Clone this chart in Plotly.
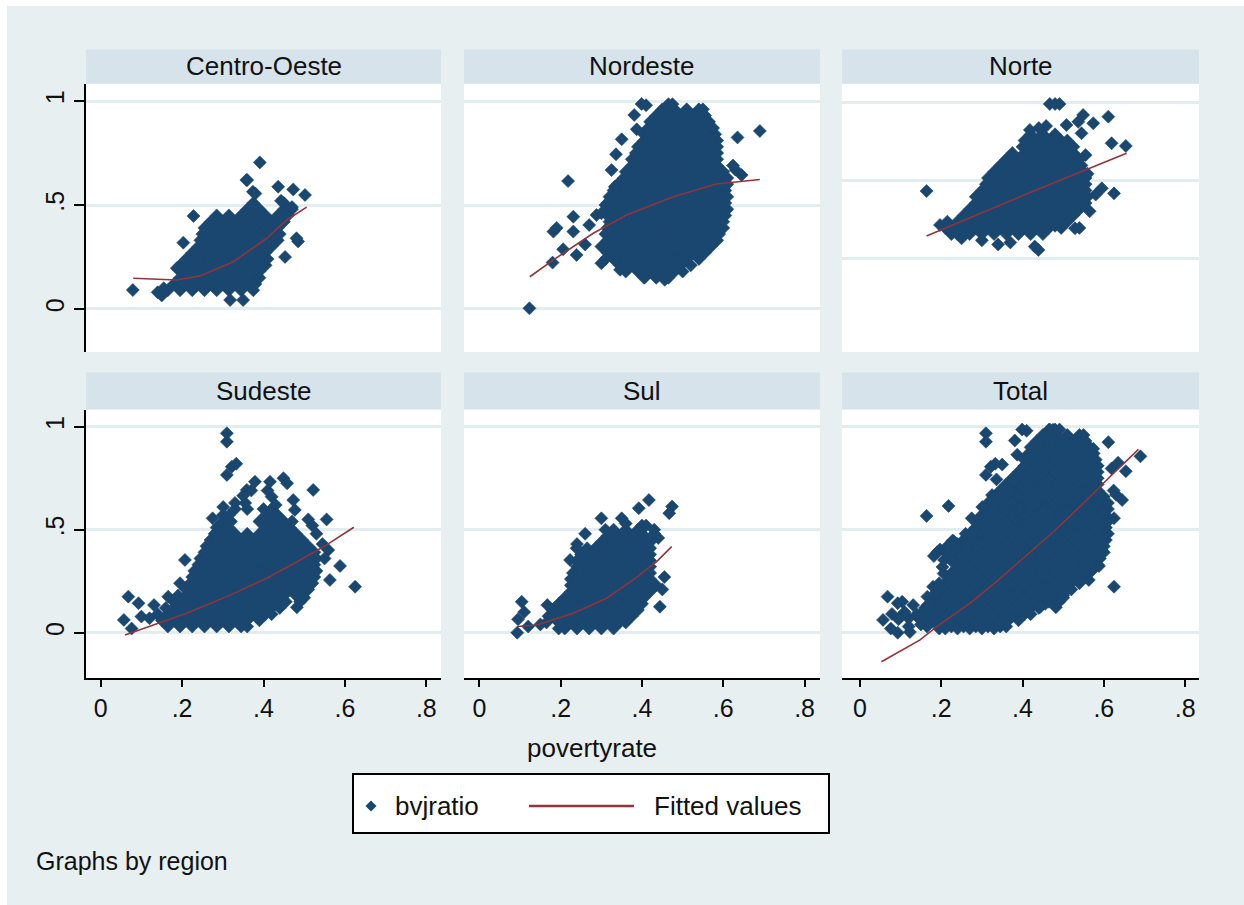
import plotly.graph_objects as go

# ---------------------------------------------------------------------------
# Data: bvjratio against povertyrate, by region (rows of points: (y, [x, ...]))
# ---------------------------------------------------------------------------
regions = ["Centro-Oeste", "Nordeste", "Norte", "Sudeste", "Sul", "Total"]
x_ticks = [0, 0.2, 0.4, 0.6, 0.8]
x_tick_text = ["0", ".2", ".4", ".6", ".8"]
y_ticks = [0, 0.5, 1]
y_tick_text = ["0", ".5", "1"]

centro_oeste_rows = [
    (0.09, [0.165, 0.195, 0.225, 0.255, 0.285, 0.315, 0.345, 0.375]),
    (0.12, [0.18, 0.21, 0.24, 0.27, 0.30, 0.33, 0.36, 0.38]),
    (0.15, [0.195, 0.225, 0.255, 0.285, 0.315, 0.345, 0.375, 0.39]),
    (0.18, [0.20, 0.21, 0.24, 0.27, 0.30, 0.33, 0.36, 0.39]),
    (0.21, [0.195, 0.225, 0.255, 0.285, 0.315, 0.345, 0.375, 0.405]),
    (0.24, [0.21, 0.24, 0.27, 0.30, 0.33, 0.36, 0.39, 0.41]),
    (0.27, [0.225, 0.255, 0.285, 0.315, 0.345, 0.375, 0.405]),
    (0.30, [0.24, 0.27, 0.30, 0.33, 0.36, 0.39, 0.42]),
    (0.33, [0.245, 0.255, 0.285, 0.315, 0.345, 0.375, 0.405, 0.435]),
    (0.36, [0.25, 0.27, 0.30, 0.33, 0.36, 0.39, 0.42, 0.44]),
    (0.39, [0.255, 0.285, 0.315, 0.345, 0.375, 0.405, 0.435]),
    (0.42, [0.27, 0.30, 0.33, 0.36, 0.39, 0.42, 0.45]),
    (0.45, [0.285, 0.315, 0.345, 0.375, 0.405, 0.435, 0.46]),
    (0.48, [0.36, 0.39, 0.45, 0.47]),
    (0.51, [0.375, 0.45]),
]
centro_oeste_extra_x = [0.079, 0.14, 0.155, 0.15, 0.391, 0.358, 0.374, 0.436, 0.473, 0.502, 0.443,
                        0.228, 0.203, 0.187, 0.453, 0.481, 0.485, 0.318, 0.35, 0.36, 0.38, 0.47]
centro_oeste_extra_y = [0.091, 0.08, 0.10, 0.065, 0.705, 0.62, 0.564, 0.588, 0.575, 0.548, 0.52,
                        0.447, 0.319, 0.196, 0.25, 0.34, 0.325, 0.043, 0.043, 0.62, 0.555, 0.49]

nordeste_rows = [
    (0.15, [0.405, 0.435, 0.465]),
    (0.18, [0.36, 0.39, 0.42, 0.45, 0.48, 0.50]),
    (0.21, [0.345, 0.375, 0.405, 0.435, 0.465, 0.495, 0.52]),
    (0.24, [0.31, 0.33, 0.36, 0.39, 0.42, 0.45, 0.48, 0.51, 0.54]),
    (0.27, [0.315, 0.345, 0.375, 0.405, 0.435, 0.465, 0.495, 0.525, 0.555]),
    (0.30, [0.30, 0.33, 0.36, 0.39, 0.42, 0.45, 0.48, 0.51, 0.54, 0.57]),
    (0.33, [0.315, 0.345, 0.375, 0.405, 0.435, 0.465, 0.495, 0.525, 0.555, 0.585]),
    (0.36, [0.31, 0.33, 0.36, 0.39, 0.42, 0.45, 0.48, 0.51, 0.54, 0.57, 0.59]),
    (0.39, [0.315, 0.345, 0.375, 0.405, 0.435, 0.465, 0.495, 0.525, 0.555, 0.585, 0.60]),
    (0.42, [0.32, 0.33, 0.36, 0.39, 0.42, 0.45, 0.48, 0.51, 0.54, 0.57, 0.60]),
    (0.45, [0.315, 0.345, 0.375, 0.405, 0.435, 0.465, 0.495, 0.525, 0.555, 0.585, 0.605]),
    (0.48, [0.32, 0.33, 0.36, 0.39, 0.42, 0.45, 0.48, 0.51, 0.54, 0.57, 0.60, 0.61]),
    (0.51, [0.315, 0.345, 0.375, 0.405, 0.435, 0.465, 0.495, 0.525, 0.555, 0.585, 0.605]),
    (0.54, [0.32, 0.33, 0.36, 0.39, 0.42, 0.45, 0.48, 0.51, 0.54, 0.57, 0.60, 0.61]),
    (0.57, [0.33, 0.345, 0.375, 0.405, 0.435, 0.465, 0.495, 0.525, 0.555, 0.585, 0.605]),
    (0.60, [0.34, 0.36, 0.39, 0.42, 0.45, 0.48, 0.51, 0.54, 0.57, 0.60, 0.61]),
    (0.63, [0.355, 0.375, 0.405, 0.435, 0.465, 0.495, 0.525, 0.555, 0.585, 0.61]),
    (0.66, [0.36, 0.39, 0.42, 0.45, 0.48, 0.51, 0.54, 0.57, 0.60]),
    (0.69, [0.375, 0.405, 0.435, 0.465, 0.495, 0.525, 0.555, 0.585]),
    (0.72, [0.375, 0.39, 0.42, 0.45, 0.48, 0.51, 0.54, 0.57, 0.585]),
    (0.75, [0.385, 0.405, 0.435, 0.465, 0.495, 0.525, 0.555, 0.585]),
    (0.78, [0.39, 0.42, 0.45, 0.48, 0.51, 0.54, 0.57, 0.585]),
    (0.81, [0.405, 0.435, 0.465, 0.495, 0.525, 0.555, 0.585]),
    (0.84, [0.405, 0.42, 0.45, 0.48, 0.51, 0.54, 0.57, 0.58]),
    (0.87, [0.415, 0.435, 0.465, 0.495, 0.525, 0.555, 0.575]),
    (0.90, [0.42, 0.45, 0.48, 0.51, 0.54, 0.565]),
    (0.93, [0.435, 0.465, 0.495, 0.525, 0.555]),
    (0.96, [0.45, 0.48, 0.51, 0.54, 0.55]),
    (0.985, [0.465, 0.475]),
]
nordeste_extra_x = [0.123, 0.218, 0.69, 0.635, 0.182, 0.19, 0.231, 0.231, 0.27, 0.288, 0.206,
                    0.18, 0.239, 0.26, 0.325, 0.336, 0.35, 0.387, 0.381, 0.399, 0.41, 0.333,
                    0.624, 0.645, 0.63, 0.346, 0.36, 0.30, 0.456, 0.407, 0.31, 0.30]
nordeste_extra_y = [0.003, 0.615, 0.856, 0.825, 0.372, 0.39, 0.444, 0.372, 0.404, 0.452, 0.287,
                    0.223, 0.26, 0.31, 0.668, 0.744, 0.816, 0.864, 0.933, 0.986, 0.98, 0.588,
                    0.69, 0.644, 0.67, 0.188, 0.188, 0.22, 0.14, 0.152, 0.50, 0.46]

norte_rows = [
    (0.36, [0.225, 0.24, 0.27, 0.30, 0.33, 0.36, 0.39, 0.42, 0.45]),
    (0.39, [0.21, 0.225, 0.255, 0.285, 0.315, 0.345, 0.375, 0.405, 0.435, 0.465, 0.495]),
    (0.42, [0.215, 0.24, 0.27, 0.30, 0.33, 0.36, 0.39, 0.42, 0.45, 0.48, 0.51]),
    (0.45, [0.255, 0.285, 0.315, 0.345, 0.375, 0.405, 0.435, 0.465, 0.495, 0.525]),
    (0.48, [0.27, 0.30, 0.33, 0.36, 0.39, 0.42, 0.45, 0.48, 0.51, 0.54]),
    (0.51, [0.285, 0.315, 0.345, 0.375, 0.405, 0.435, 0.465, 0.495, 0.525, 0.555]),
    (0.54, [0.285, 0.30, 0.33, 0.36, 0.39, 0.42, 0.45, 0.48, 0.51, 0.54, 0.56]),
    (0.57, [0.30, 0.315, 0.345, 0.375, 0.405, 0.435, 0.465, 0.495, 0.525, 0.555]),
    (0.60, [0.31, 0.33, 0.36, 0.39, 0.42, 0.45, 0.48, 0.51, 0.54, 0.555]),
    (0.63, [0.315, 0.345, 0.375, 0.405, 0.435, 0.465, 0.495, 0.525, 0.555]),
    (0.66, [0.33, 0.36, 0.39, 0.42, 0.45, 0.48, 0.51, 0.54, 0.55]),
    (0.69, [0.345, 0.375, 0.405, 0.435, 0.465, 0.495, 0.525, 0.545]),
    (0.72, [0.36, 0.39, 0.42, 0.45, 0.48, 0.51, 0.54]),
    (0.75, [0.375, 0.405, 0.435, 0.465, 0.495, 0.525]),
    (0.78, [0.40, 0.42, 0.45, 0.48, 0.51, 0.525]),
    (0.81, [0.405, 0.435, 0.465, 0.495, 0.51]),
    (0.84, [0.42, 0.45, 0.48]),
]
norte_extra_x = [0.164, 0.467, 0.48, 0.491, 0.549, 0.537, 0.574, 0.611, 0.508, 0.545, 0.619,
                 0.654, 0.625, 0.595, 0.58, 0.529, 0.54, 0.439, 0.43, 0.197, 0.37, 0.34,
                 0.25, 0.418, 0.458, 0.44, 0.30, 0.48, 0.565, 0.56, 0.555]
norte_extra_y = [0.567, 0.986, 0.986, 0.986, 0.933, 0.90, 0.893, 0.925, 0.885, 0.845, 0.797,
                 0.784, 0.556, 0.58, 0.55, 0.388, 0.39, 0.284, 0.30, 0.404, 0.32, 0.31,
                 0.34, 0.861, 0.88, 0.87, 0.33, 0.40, 0.47, 0.65, 0.74]

sudeste_rows = [
    (0.03, [0.165, 0.195, 0.225, 0.255, 0.285, 0.315, 0.345, 0.36]),
    (0.06, [0.15, 0.18, 0.21, 0.24, 0.27, 0.30, 0.33, 0.36, 0.39]),
    (0.09, [0.14, 0.165, 0.195, 0.225, 0.255, 0.285, 0.315, 0.345, 0.375, 0.405, 0.42]),
    (0.12, [0.16, 0.18, 0.21, 0.24, 0.27, 0.30, 0.33, 0.36, 0.39, 0.42, 0.44]),
    (0.15, [0.18, 0.195, 0.225, 0.255, 0.285, 0.315, 0.345, 0.375, 0.405, 0.435, 0.455]),
    (0.18, [0.19, 0.21, 0.24, 0.27, 0.30, 0.33, 0.36, 0.39, 0.42, 0.45, 0.48, 0.495]),
    (0.21, [0.21, 0.225, 0.255, 0.285, 0.315, 0.345, 0.375, 0.405, 0.435, 0.465, 0.495, 0.51]),
    (0.24, [0.22, 0.24, 0.27, 0.30, 0.33, 0.36, 0.39, 0.42, 0.45, 0.48, 0.51, 0.52]),
    (0.27, [0.225, 0.255, 0.285, 0.315, 0.345, 0.375, 0.405, 0.435, 0.465, 0.495, 0.525]),
    (0.30, [0.23, 0.24, 0.27, 0.30, 0.33, 0.36, 0.39, 0.42, 0.45, 0.48, 0.51, 0.53]),
    (0.33, [0.24, 0.255, 0.285, 0.315, 0.345, 0.375, 0.405, 0.435, 0.465, 0.495, 0.525]),
    (0.36, [0.245, 0.27, 0.30, 0.33, 0.36, 0.39, 0.42, 0.45, 0.48, 0.51, 0.53]),
    (0.39, [0.255, 0.285, 0.315, 0.345, 0.375, 0.405, 0.435, 0.465, 0.495, 0.525]),
    (0.42, [0.26, 0.27, 0.30, 0.33, 0.36, 0.39, 0.42, 0.45, 0.48, 0.51]),
    (0.45, [0.27, 0.285, 0.315, 0.345, 0.375, 0.405, 0.435, 0.465, 0.495]),
    (0.48, [0.28, 0.30, 0.33, 0.36, 0.39, 0.42, 0.45, 0.48]),
    (0.51, [0.285, 0.315, 0.405, 0.435, 0.465]),
    (0.54, [0.30, 0.32, 0.39, 0.42, 0.45, 0.47]),
    (0.57, [0.30, 0.315, 0.405, 0.435]),
    (0.60, [0.33, 0.36, 0.40, 0.42]),
    (0.63, [0.33, 0.355]),
]
sudeste_extra_x = [0.31, 0.31, 0.322, 0.31, 0.333, 0.379, 0.359, 0.416, 0.449, 0.458, 0.42,
                   0.522, 0.473, 0.477, 0.555, 0.275, 0.301, 0.207, 0.068, 0.093, 0.057,
                   0.076, 0.10, 0.131, 0.166, 0.195, 0.588, 0.563, 0.625, 0.482, 0.559,
                   0.53, 0.52, 0.51, 0.35, 0.37, 0.41, 0.43, 0.55, 0.545, 0.49, 0.50, 0.12]
sudeste_extra_y = [0.968, 0.927, 0.806, 0.766, 0.82, 0.733, 0.693, 0.733, 0.75, 0.725, 0.66,
                   0.693, 0.644, 0.596, 0.55, 0.555, 0.61, 0.353, 0.175, 0.143, 0.062,
                   0.02, 0.078, 0.134, 0.175, 0.24, 0.324, 0.256, 0.223, 0.123, 0.401,
                   0.48, 0.52, 0.55, 0.665, 0.69, 0.69, 0.62, 0.36, 0.43, 0.15, 0.17, 0.07]

sul_rows = [
    (0.02, [0.195, 0.21, 0.24, 0.27, 0.30, 0.33]),
    (0.05, [0.165, 0.195, 0.225, 0.255, 0.285, 0.315, 0.345, 0.36]),
    (0.08, [0.17, 0.18, 0.21, 0.24, 0.27, 0.30, 0.33, 0.36, 0.375]),
    (0.11, [0.18, 0.195, 0.225, 0.255, 0.285, 0.315, 0.345, 0.375, 0.39]),
    (0.14, [0.195, 0.21, 0.24, 0.27, 0.30, 0.33, 0.36, 0.39, 0.40]),
    (0.17, [0.21, 0.225, 0.255, 0.285, 0.315, 0.345, 0.375, 0.405]),
    (0.20, [0.225, 0.24, 0.27, 0.30, 0.33, 0.36, 0.39, 0.42]),
    (0.23, [0.225, 0.255, 0.285, 0.315, 0.345, 0.375, 0.405, 0.435]),
    (0.26, [0.225, 0.24, 0.27, 0.30, 0.33, 0.36, 0.39, 0.42]),
    (0.29, [0.23, 0.255, 0.285, 0.315, 0.345, 0.375, 0.405, 0.42]),
    (0.32, [0.24, 0.27, 0.30, 0.33, 0.36, 0.39, 0.42]),
    (0.35, [0.24, 0.255, 0.285, 0.315, 0.345, 0.375, 0.405, 0.42]),
    (0.38, [0.25, 0.27, 0.30, 0.33, 0.36, 0.39, 0.42]),
    (0.41, [0.265, 0.285, 0.315, 0.345, 0.375, 0.405, 0.42]),
    (0.44, [0.30, 0.33, 0.36, 0.39, 0.42]),
    (0.47, [0.315, 0.345, 0.375, 0.405]),
    (0.50, [0.31, 0.33, 0.36, 0.39]),
    (0.52, [0.40, 0.41]),
]
sul_extra_x = [0.417, 0.392, 0.474, 0.467, 0.30, 0.35, 0.444, 0.104, 0.095, 0.093, 0.12,
               0.167, 0.26, 0.24, 0.36, 0.43, 0.44, 0.43, 0.45, 0.455, 0.11, 0.15, 0.223, 0.239]
sul_extra_y = [0.644, 0.604, 0.612, 0.58, 0.555, 0.555, 0.126, 0.15, 0.065, 0.0, 0.03,
               0.134, 0.48, 0.43, 0.53, 0.50, 0.46, 0.48, 0.21, 0.27, 0.10, 0.04, 0.353, 0.41]

# Fitted values (one curve per panel)
fit_x = {
    "Centro-Oeste": [0.08, 0.187, 0.244, 0.326, 0.408, 0.457, 0.506],
    "Nordeste": [0.124, 0.182, 0.28, 0.362, 0.477, 0.583, 0.69],
    "Norte": [0.164, 0.426, 0.656],
    "Sudeste": [0.06, 0.129, 0.211, 0.31, 0.408, 0.49, 0.555, 0.622],
    "Sul": [0.093, 0.141, 0.231, 0.313, 0.378, 0.436, 0.473],
    "Total": [0.053, 0.148, 0.189, 0.271, 0.336, 0.41, 0.476, 0.558, 0.615, 0.685],
}
fit_y = {
    "Centro-Oeste": [0.148, 0.139, 0.159, 0.227, 0.34, 0.428, 0.49],
    "Nordeste": [0.155, 0.236, 0.364, 0.452, 0.54, 0.601, 0.623],
    "Norte": [0.351, 0.566, 0.749],
    "Sudeste": [-0.011, 0.037, 0.094, 0.175, 0.264, 0.353, 0.426, 0.512],
    "Sul": [0.03, 0.037, 0.094, 0.167, 0.256, 0.345, 0.418],
    "Total": [-0.141, -0.035, 0.029, 0.143, 0.248, 0.377, 0.49, 0.644, 0.757, 0.89],
}


def unpack(rows, extra_x, extra_y):
    xs, ys = [], []
    for yv, row in rows:
        xs.extend(row)
        ys.extend([yv] * len(row))
    return xs + extra_x, ys + extra_y


points = {
    "Centro-Oeste": unpack(centro_oeste_rows, centro_oeste_extra_x, centro_oeste_extra_y),
    "Nordeste": unpack(nordeste_rows, nordeste_extra_x, nordeste_extra_y),
    "Norte": unpack(norte_rows, norte_extra_x, norte_extra_y),
    "Sudeste": unpack(sudeste_rows, sudeste_extra_x, sudeste_extra_y),
    "Sul": unpack(sul_rows, sul_extra_x, sul_extra_y),
}
# the Total panel pools every region
total_x, total_y = [], []
for name in regions[:5]:
    total_x += points[name][0]
    total_y += points[name][1]
points["Total"] = (total_x, total_y)

# ---------------------------------------------------------------------------
# Styling / geometry (pixels of a 1244 x 905 canvas)
# ---------------------------------------------------------------------------
W, H = 1244, 905
NAVY = "#1A476F"
FIT = "#90353B"
BG = "#E7EFF1"
STRIP = "#D6E3EA"
GRID = "#E3ECEF"
FONT = "Arial, 'Liberation Sans', sans-serif"
INK = "#111111"

col_px = [(86, 441), (464, 820), (842, 1199)]
row_px = [(84, 352), (410, 678)]
strip_px = [(49.5, 83.5), (372.5, 409)]
x_ranges = [[-0.036, 0.836], [-0.038, 0.838], [-0.044, 0.834]]
y_ranges = [[-0.207, 1.082], [-0.22, 1.081]]


def fx(px):
    return px / W


def fy(py):
    return 1 - py / H


fig = go.Figure()
layout = dict(
    width=W, height=H,
    margin=dict(l=0, r=0, t=0, b=0),
    paper_bgcolor=BG,
    plot_bgcolor="white",
    showlegend=False,
    font=dict(family=FONT, color=INK),
)
shapes = []
annotations = []

for i, name in enumerate(regions):
    r, c = divmod(i, 3)
    xa = "x" if i == 0 else f"x{i + 1}"
    ya = "y" if i == 0 else f"y{i + 1}"
    xs, ys = points[name]
    fig.add_trace(go.Scatter(
        x=xs, y=ys, mode="markers", xaxis=xa, yaxis=ya, name="bvjratio",
        marker=dict(symbol="diamond", size=10, color=NAVY,
                    line=dict(width=0.6, color=NAVY)),
        hoverinfo="skip",
    ))
    fig.add_trace(go.Scatter(
        x=fit_x[name], y=fit_y[name], mode="lines", xaxis=xa, yaxis=ya,
        name="Fitted values", line=dict(color=FIT, width=1.6),
        hoverinfo="skip",
    ))

    bottom = r == 1
    left = c == 0
    xkey = "xaxis" if i == 0 else f"xaxis{i + 1}"
    ykey = "yaxis" if i == 0 else f"yaxis{i + 1}"
    layout[xkey] = dict(
        domain=[fx(col_px[c][0]), fx(col_px[c][1])],
        anchor=ya, range=x_ranges[c],
        tickvals=x_ticks, ticktext=x_tick_text,
        showgrid=False, zeroline=False,
        showline=bottom, linecolor="black", linewidth=2,
        ticks="outside" if bottom else "", ticklen=7, tickwidth=2, tickcolor="black",
        showticklabels=bottom, tickfont=dict(size=25, color=INK, family=FONT),
        fixedrange=True,
    )
    grid_vals = [0.245, 0.62, 0.995] if name == "Norte" else y_ticks
    layout[ykey] = dict(
        domain=[fy(row_px[r][1]), fy(row_px[r][0])],
        anchor=xa, range=y_ranges[r],
        tickvals=y_ticks if left else grid_vals,
        ticktext=y_tick_text if left else None,
        showgrid=True, gridcolor=GRID, gridwidth=2.5,
        zeroline=False,
        showline=left, linecolor="black", linewidth=2,
        ticks="outside" if left else "", ticklen=10, tickwidth=2, tickcolor="black",
        showticklabels=left, tickangle=-90,
        tickfont=dict(size=25, color=INK, family=FONT),
        fixedrange=True,
    )

    # strip header with the region name
    shapes.append(dict(
        type="rect", xref="paper", yref="paper", layer="below",
        x0=fx(col_px[c][0]), x1=fx(col_px[c][1]),
        y0=fy(strip_px[r][1]), y1=fy(strip_px[r][0]),
        fillcolor=STRIP, line=dict(width=0),
    ))
    annotations.append(dict(
        text=name, xref="paper", yref="paper", showarrow=False,
        x=fx((col_px[c][0] + col_px[c][1]) / 2), y=fy((strip_px[r][0] + strip_px[r][1]) / 2),
        xanchor="center", yanchor="middle",
        font=dict(size=26, color=INK, family=FONT),
    ))

# thin white frame along the top and left edges
shapes.append(dict(type="rect", xref="paper", yref="paper", layer="below",
                   x0=0, x1=1, y0=fy(6), y1=1, fillcolor="white", line=dict(width=0)))
shapes.append(dict(type="rect", xref="paper", yref="paper", layer="below",
                   x0=0, x1=fx(7), y0=0, y1=1, fillcolor="white", line=dict(width=0)))

# x-axis title
annotations.append(dict(
    text="povertyrate", xref="paper", yref="paper", showarrow=False,
    x=fx(591.5), y=fy(748), xanchor="center", yanchor="middle",
    font=dict(size=26, color=INK, family=FONT),
))

# legend box
leg_cy = 806
shapes.append(dict(type="rect", xref="paper", yref="paper", layer="above",
                   x0=fx(353), x1=fx(829), y0=fy(833), y1=fy(774),
                   fillcolor="white", line=dict(color="black", width=2)))
d = 5.5
shapes.append(dict(
    type="path", xref="paper", yref="paper", layer="above",
    path=(f"M {fx(371 - d)},{fy(leg_cy)} L {fx(371)},{fy(leg_cy - d)} "
          f"L {fx(371 + d)},{fy(leg_cy)} L {fx(371)},{fy(leg_cy + d)} Z"),
    fillcolor=NAVY, line=dict(width=0),
))
shapes.append(dict(type="line", xref="paper", yref="paper", layer="above",
                   x0=fx(529), x1=fx(634), y0=fy(leg_cy), y1=fy(leg_cy),
                   line=dict(color=FIT, width=2.5)))
annotations.append(dict(
    text="bvjratio", xref="paper", yref="paper", showarrow=False,
    x=fx(393), y=fy(leg_cy), xanchor="left", yanchor="middle",
    font=dict(size=26, color=INK, family=FONT),
))
annotations.append(dict(
    text="Fitted values", xref="paper", yref="paper", showarrow=False,
    x=fx(652), y=fy(leg_cy), xanchor="left", yanchor="middle",
    font=dict(size=26, color=INK, family=FONT),
))

# note
annotations.append(dict(
    text="Graphs by region", xref="paper", yref="paper", showarrow=False,
    x=fx(34), y=fy(861), xanchor="left", yanchor="middle",
    font=dict(size=25, color=INK, family=FONT),
))

layout["shapes"] = shapes
layout["annotations"] = annotations
fig.update_layout(**layout)

fig.write_html("out.html")
